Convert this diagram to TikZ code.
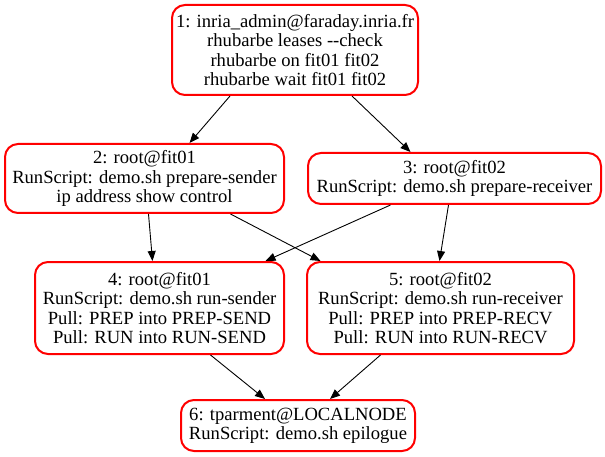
\documentclass[tikz,border=0pt]{standalone}
\usepackage{fontspec}
\setmainfont{Liberation Serif}
\usetikzlibrary{arrows.meta}
\tikzset{
  x=1pt, y=-1pt,
  task/.style={draw=red, line width=2pt, rounded corners=13pt, fill=white,
    align=center, inner sep=0pt, font=\fontsize{18.6}{19.3}\selectfont},
  edge/.style={draw=black, line width=0.9pt, -{Triangle[length=10pt,width=8pt]}}
}
\begin{document}
\begin{tikzpicture}
\useasboundingbox (0,0) rectangle (605,457);
\node[task, minimum width=246pt, minimum height=90pt] (n1) at (295,50)
  {1: inria\_admin@faraday.inria.fr\\rhubarbe leases -\kern0pt-check\\rhubarbe on fit01 fit02\\rhubarbe wait fit01 fit02};
\node[task, minimum width=279pt, minimum height=69pt] (n2) at (144.5,178.5)
  {2: root@fit01\\RunScript: demo.sh prepare-sender\\ip address show control};
\node[task, minimum width=293pt, minimum height=51pt] (n3) at (454.5,178.5)
  {3: root@fit02\\RunScript: demo.sh prepare-receiver};
\node[task, minimum width=249pt, minimum height=92pt] (n4) at (159.5,308)
  {4: root@fit01\\RunScript: demo.sh run-sender\\Pull: PREP into PREP-SEND\\Pull: RUN into RUN-SEND};
\node[task, minimum width=267pt, minimum height=92pt] (n5) at (440.5,308)
  {5: root@fit02\\RunScript: demo.sh run-receiver\\Pull: PREP into PREP-RECV\\Pull: RUN into RUN-RECV};
\node[task, minimum width=234pt, minimum height=51pt] (n6) at (298,425.5)
  {6: tparment@LOCALNODE\\RunScript: demo.sh epilogue};
\draw[edge] ([xshift=-65pt]n1.south) -- ([xshift=45pt]n2.north);
\draw[edge] ([xshift=57pt]n1.south) -- ([xshift=-44pt]n3.north);
\draw[edge] ([xshift=4pt]n2.south) -- ([xshift=-7pt]n4.north);
\draw[edge] ([xshift=86pt]n2.south) -- ([xshift=-120pt]n5.north);
\draw[edge] ([xshift=-64pt]n3.south) -- ([xshift=106pt]n4.north);
\draw[edge] ([xshift=-6pt]n3.south) -- ([xshift=-1pt]n5.north);
\draw[edge] ([xshift=51pt]n4.south) -- ([xshift=-33pt]n6.north);
\draw[edge] ([xshift=-60pt]n5.south) -- ([xshift=32pt]n6.north);
\end{tikzpicture}
\end{document}
